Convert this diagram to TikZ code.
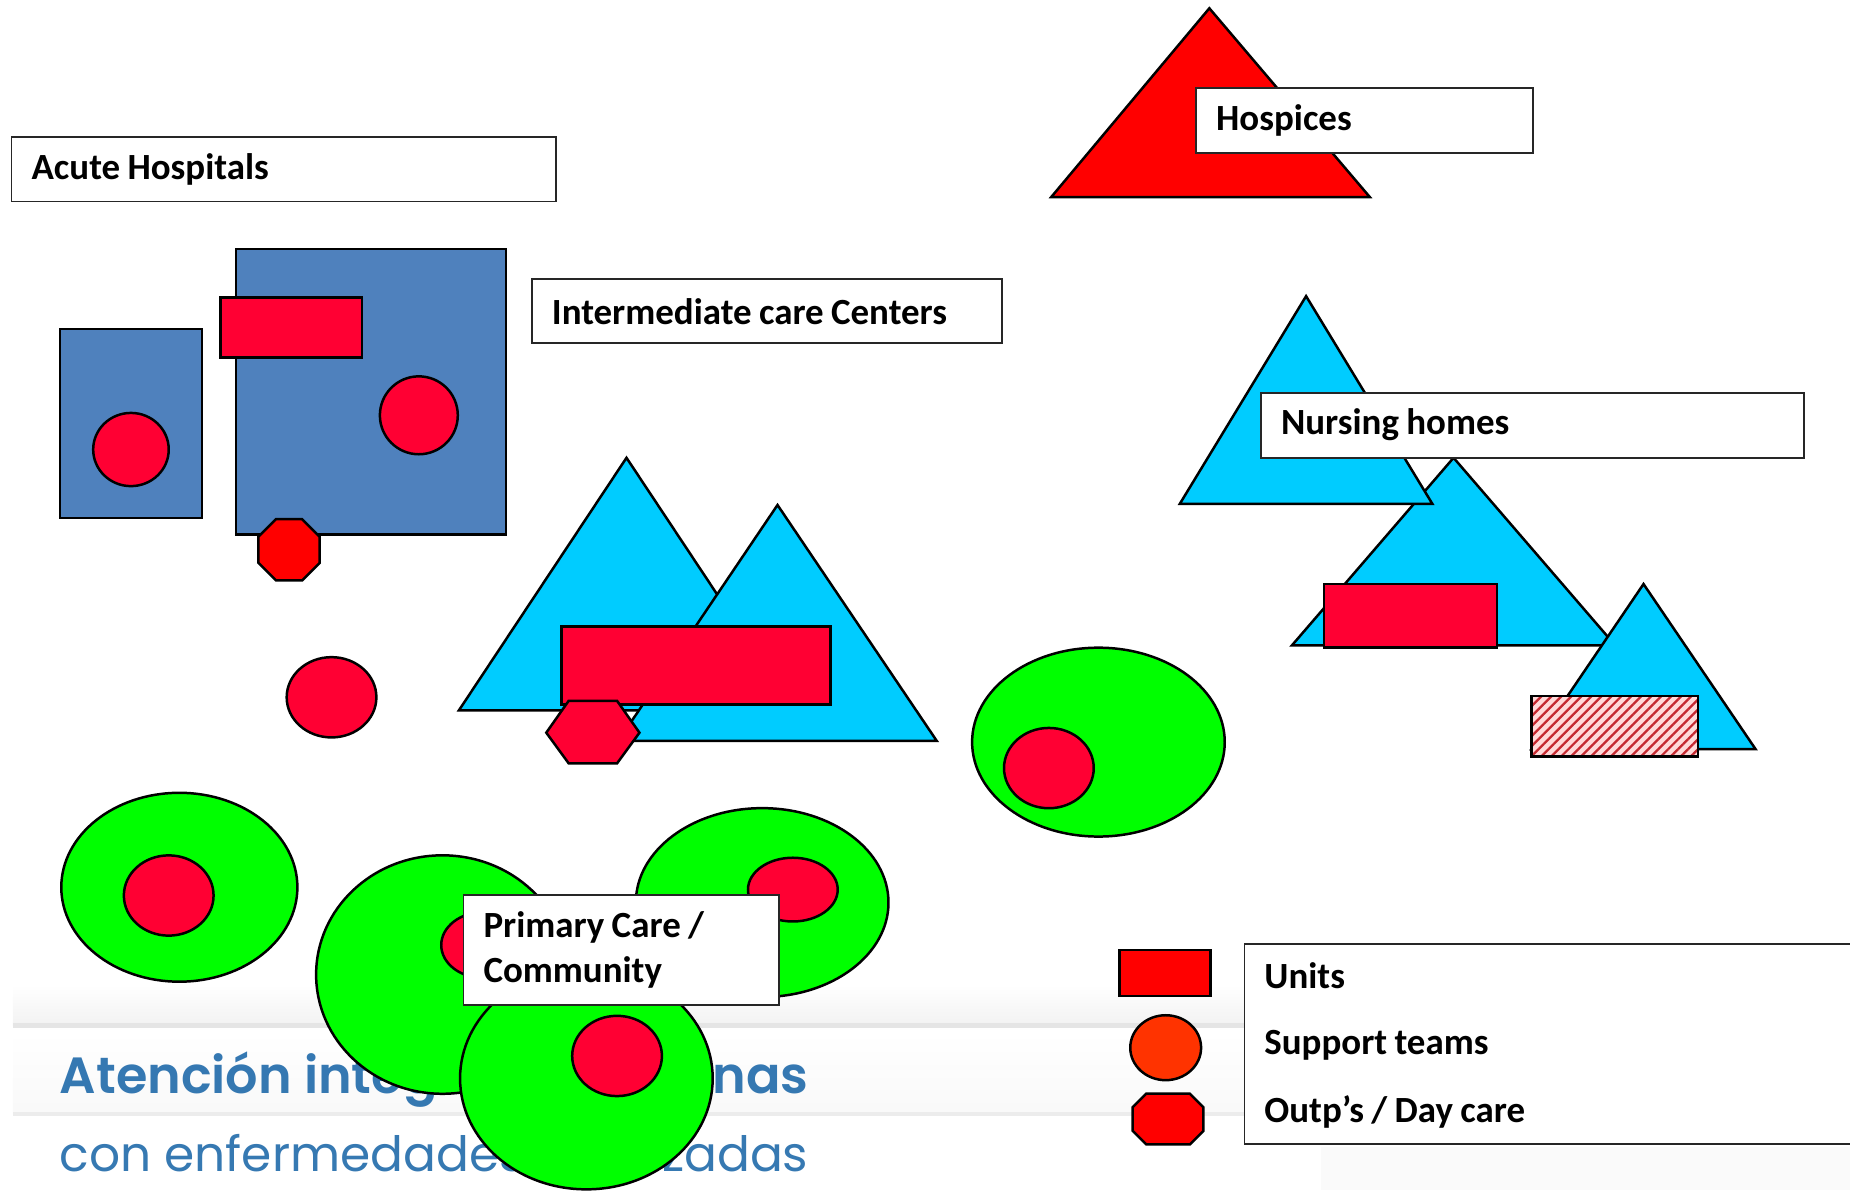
\documentclass[tikz,border=0pt]{standalone}
\usepackage{fontspec}
\setmainfont{Carlito}
\newfontfamily\bgfont{Poppins}
\newfontfamily\bgfontmed{Poppins SemiBold}
\usetikzlibrary{patterns.meta}
\definecolor{hospblue}{RGB}{79,129,189}
\definecolor{unitred}{RGB}{255,0,51}
\definecolor{outred}{RGB}{255,0,0}
\definecolor{teamorange}{RGB}{255,51,0}
\definecolor{nurscyan}{RGB}{0,204,255}
\definecolor{pcgreen}{RGB}{0,255,0}
\definecolor{bgblue}{RGB}{32,106,170}
\definecolor{hatchred}{RGB}{196,40,48}

\begin{document}
\begin{tikzpicture}[x=0.01cm, y=-0.01cm,
  obj/.style={draw=black, line width=0.6pt},
  lbl/.style={draw=black!85, line width=0.45pt, fill=white, anchor=north west, align=left,
    inner xsep=0.17cm, inner ysep=0pt, font=\fontsize{8.9}{10.8}\selectfont\bfseries,
    execute at begin node={\spaceskip=0.2em\relax}},
  legtext/.style={anchor=base west, inner sep=0pt, font=\fontsize{8.9}{10.8}\selectfont\bfseries,
    execute at begin node={\spaceskip=0.2em\relax}},
  bgtext/.style={anchor=base west, inner sep=0pt, text=bgblue, opacity=0.9}]
\useasboundingbox (0,0) rectangle (1568,1009);
\clip (0,0) rectangle (1568,1009);

\fill[gray!4] (1120,972) rectangle (1568,1009);
\shade[top color=white, bottom color=gray!10] (11,835) rectangle (1054,869);
\draw[gray!20, line width=1.2pt] (11,869) -- (1054,869);
\shade[top color=white, bottom color=gray!5] (11,875) rectangle (1054,944);
\draw[gray!15, line width=1pt] (11,944) -- (1054,944);
\node[bgtext] (bgline1) at (50,927) {\resizebox{6.34cm}{!}{\bgfontmed Atención integral a personas}};
\node[bgtext] (bgline2) at (50,993) {\resizebox{6.34cm}{!}{\bgfont con enfermedades avanzadas}};

\draw[obj, fill=outred] (1025,7) -- (1161,167) -- (891,167) -- cycle;
\node[lbl, text width=2.51cm, minimum height=0.55cm] (hospices) at (1013,74) {Hospices};

\node[lbl, text width=4.27cm, minimum height=0.55cm] (acute) at (9,115) {Acute Hospitals};
\draw[obj, fill=hospblue] (51,279) rectangle (171,439);
\draw[obj, fill=unitred] (111,381) ellipse [x radius=0.32cm, y radius=0.31cm];
\draw[obj, fill=hospblue] (200,211) rectangle (429,453);
\draw[obj, fill=unitred] (187,252) rectangle (307,303);
\draw[obj, fill=unitred] (355,352) ellipse [x radius=0.33cm, y radius=0.33cm];
\draw[obj, fill=outred] (234,440) -- (256,440) -- (271,455) -- (271,477) -- (256,492) -- (234,492) -- (219,477) -- (219,455) -- cycle;

\node[lbl, text width=3.64cm, minimum height=0.54cm] (intermediate) at (450,236) {Intermediate care Centers};
\draw[obj, fill=unitred] (281,591) ellipse [x radius=0.38cm, y radius=0.34cm];
\draw[obj, fill=nurscyan] (531,388) -- (673,602) -- (389,602) -- cycle;
\draw[obj, fill=nurscyan] (659,428) -- (794,628) -- (524,628) -- cycle;
\draw[obj, fill=unitred] (476,531) rectangle (704,597);
\draw[obj, fill=unitred] (463,621) -- (482,594) -- (523,594) -- (542,621) -- (523,647) -- (482,647) -- cycle;

\draw[obj, fill=pcgreen] (931,629) ellipse [x radius=1.07cm, y radius=0.80cm];
\draw[obj, fill=unitred] (889,651) ellipse [x radius=0.38cm, y radius=0.34cm];

\draw[obj, fill=nurscyan] (1232,388) -- (1369,547) -- (1095,547) -- cycle;
\draw[obj, fill=nurscyan] (1107,251) -- (1214,427) -- (1000,427) -- cycle;
\node[lbl, text width=4.26cm, minimum height=0.55cm] (nursing) at (1068,332) {Nursing homes};
\draw[obj, fill=unitred] (1122,495) rectangle (1269,549);
\draw[obj, fill=nurscyan] (1393,495) -- (1488,635) -- (1298,635) -- cycle;
\fill[red!15] (1298,590) rectangle (1439,641);
\fill[pattern={Lines[angle=45, distance=1.7pt, line width=0.55pt]}, pattern color=hatchred] (1298,590) rectangle (1439,641);
\draw[obj] (1298,590) rectangle (1439,641);

\draw[obj, fill=pcgreen] (152,752) ellipse [x radius=1.00cm, y radius=0.80cm];
\draw[obj, fill=unitred] (143,759) ellipse [x radius=0.38cm, y radius=0.34cm];
\draw[obj, fill=pcgreen] (646,765) ellipse [x radius=1.07cm, y radius=0.80cm];
\draw[obj, fill=unitred] (672,754) ellipse [x radius=0.38cm, y radius=0.27cm];
\draw[obj, fill=pcgreen] (375,826) ellipse [x radius=1.07cm, y radius=1.01cm];
\draw[obj, fill=unitred] (410,801) ellipse [x radius=0.36cm, y radius=0.28cm];
\draw[obj, fill=pcgreen] (497,914) ellipse [x radius=1.07cm, y radius=0.94cm];
\draw[obj, fill=unitred] (523,895) ellipse [x radius=0.38cm, y radius=0.34cm];
\node[lbl, text width=2.33cm, minimum height=0.93cm] (primary) at (392,758) {Primary Care /\\Community};

\draw[obj, fill=outred] (949,805) rectangle (1026,844);
\draw[obj, fill=teamorange] (988,888) ellipse [x radius=0.30cm, y radius=0.275cm];
\draw[obj, fill=outred] (971.5,927) -- (1008.5,927) -- (1020,938.5) -- (1020,958.5) -- (1008.5,970) -- (971.5,970) -- (960,958.5) -- (960,938.5) -- cycle;
\node[lbl, minimum width=5.2cm, minimum height=1.70cm] (legend) at (1054,799) {};
\node[legtext] (units) at (1071,838) {Units};
\node[legtext] (teams) at (1071,894) {Support teams};
\node[legtext] (daycare) at (1071,951) {Outp’s / Day care};
\end{tikzpicture}
\end{document}
